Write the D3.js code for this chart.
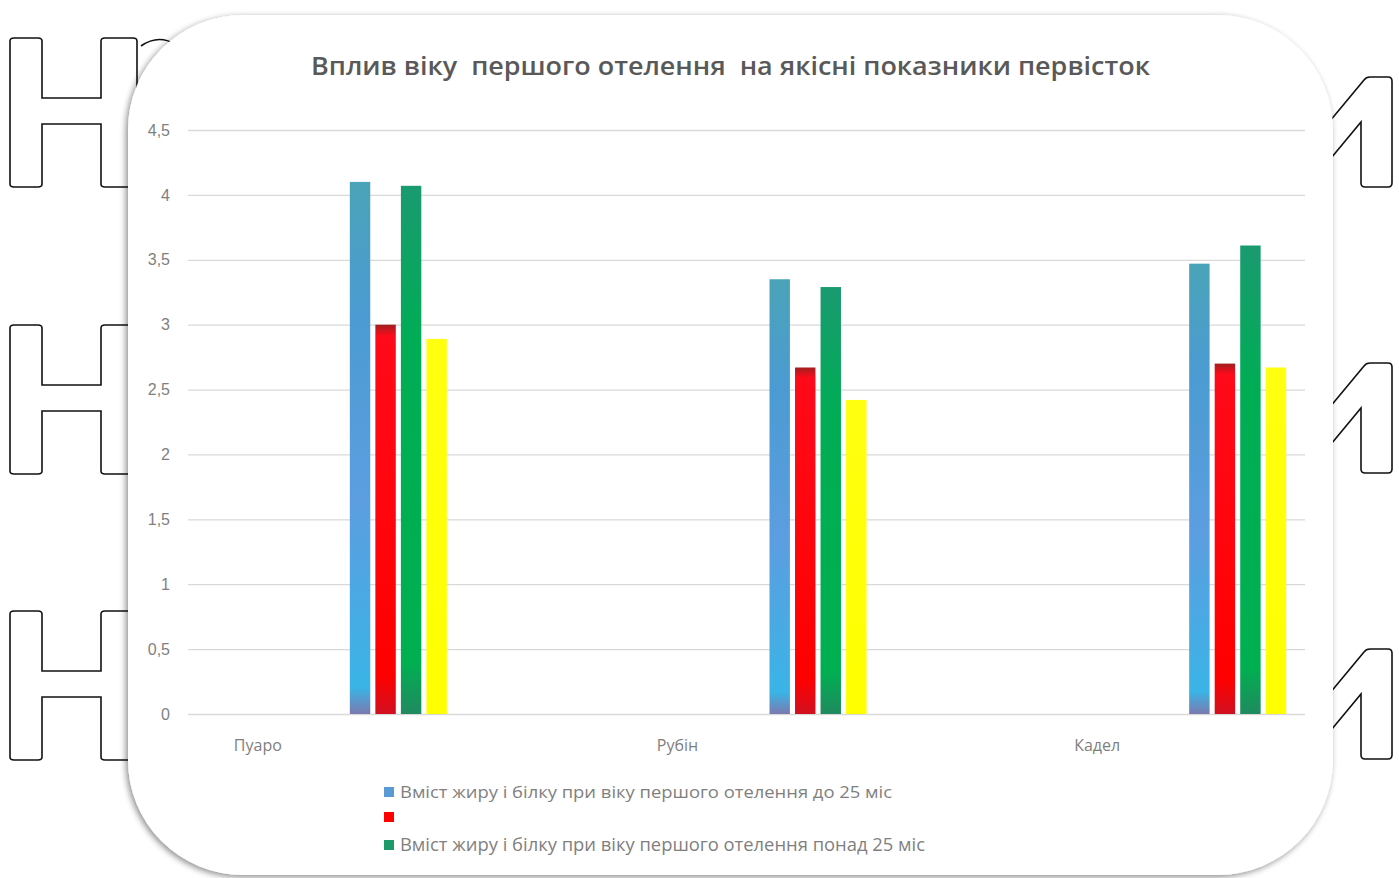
<!DOCTYPE html>
<html>
<head>
<meta charset="utf-8">
<script src="https://cdn.jsdelivr.net/npm/d3@7"></script>
<style>
  html, body { margin: 0; padding: 0; background: #fff; }
  svg { display: block; font-family: "Open Sans", "Noto Sans", sans-serif; }
</style>
</head>
<body>
<svg id="chart" width="1399" height="878"></svg>
<script>
// categories and series values
const categories = ['Пуаро', 'Рубін', 'Кадел'];
const seriesNames = [
  'Вміст жиру і білку при віку першого отелення до 25 міс',
  '',
  'Вміст жиру і білку при віку першого отелення понад 25 міс',
  ''
];
const blueValues   = [4.10, 3.35, 3.47];
const redValues    = [3.00, 2.67, 2.70];
const greenValues  = [4.07, 3.29, 3.61];
const yellowValues = [2.89, 2.42, 2.67];
const yTicks = [0, 0.5, 1, 1.5, 2, 2.5, 3, 3.5, 4, 4.5];
const titleText = 'Вплив віку  першого отелення  на якісні показники первісток';

const seriesValues = [blueValues, redValues, greenValues, yellowValues];
const seriesFill = ['url(#gBlue)', 'url(#gRed)', 'url(#gGreen)', 'url(#gYellow)'];
const legendColors = ['#5b9bd5', '#ff0000', '#1e9a6a', '#ffff00'];

const svg = d3.select('#chart');
const defs = svg.append('defs');

// soft shadow for the rounded card
const f = defs.append('filter').attr('id', 'shadow')
  .attr('x', '-5%').attr('y', '-5%').attr('width', '110%').attr('height', '110%');
f.append('feDropShadow').attr('dx', -2).attr('dy', 2).attr('stdDeviation', 3)
  .attr('flood-color', '#000').attr('flood-opacity', 0.45);

function grad(id, stops) {
  const g = defs.append('linearGradient').attr('id', id)
    .attr('x1', 0).attr('y1', 0).attr('x2', 0).attr('y2', 1);
  stops.forEach(([o, c]) => g.append('stop').attr('offset', o).attr('stop-color', c));
}
grad('gBlue', [[0, '#4aa3b8'], [0.25, '#4b9bd2'], [0.6, '#5c9ee0'], [0.95, '#3ab4e6'], [1, '#7a7ab0']]);
grad('gRed', [[0, '#a02020'], [0.03, '#ff0a1a'], [0.9, '#ff0000'], [1, '#d01020']]);
grad('gGreen', [[0, '#1a9a70'], [0.3, '#00ad55'], [0.9, '#00b050'], [1, '#208a60']]);
grad('gYellow', [[0, '#ffff10'], [1, '#ffff00']]);

// decorative outlined shapes behind the card
const deco = svg.append('g').attr('fill', '#fff').attr('stroke', '#111').attr('stroke-width', 1.6);
[38, 325, 611].forEach(top => {
  const b = top + 149;
  deco.append('path').attr('d',
    `M10,${top + 3} Q10,${top} 14,${top} L38,${top} Q42,${top} 42,${top + 3}` +
    ` L42,${top + 60} L101,${top + 60} L101,${top + 3} Q101,${top} 105,${top} L133,${top} Q137,${top} 137,${top + 3}` +
    ` L137,${b - 3} Q137,${b} 133,${b} L105,${b} Q101,${b} 101,${b - 3}` +
    ` L101,${top + 86} L42,${top + 86} L42,${b - 3} Q42,${b} 38,${b} L14,${b} Q10,${b} 10,${b - 3} Z`);
});
[77, 363, 649].forEach(top => {
  const b = top + 110;
  deco.append('path').attr('d',
    `M1320,${top + 56} L1364,${top + 3} Q1366,${top} 1370,${top} L1388,${top} Q1392,${top} 1392,${top + 4}` +
    ` L1392,${b - 4} Q1392,${b} 1388,${b} L1365,${b} Q1361,${b} 1361,${b - 4} L1361,${top + 45} L1322,${top + 92}`);
});
deco.append('path').attr('fill', 'none')
  .attr('d', 'M141,46 Q158,34 175,44 L153,72');
deco.append('path').attr('fill', 'none').attr('stroke-width', 1.2)
  .attr('d', 'M1311,78 L1313,82');

// the card
svg.append('rect')
  .attr('x', 128).attr('y', 15).attr('width', 1205).attr('height', 860)
  .attr('rx', 115).attr('ry', 115)
  .attr('fill', '#fff').attr('filter', 'url(#shadow)');

// scales
const y = d3.scaleLinear().domain([0, 4.5]).range([714, 130]);
const x0 = d3.scaleBand().domain(categories).range([48, 1307]);
const x1 = d3.scaleBand().domain(d3.range(seriesValues.length)).range([92, 189]).paddingInner(0.2);

// title
svg.append('text')
  .attr('x', 311).attr('y', 75)
  .attr('font-size', 26).attr('font-weight', 600).attr('fill', '#595959')
  .attr('xml:space', 'preserve')
  .attr('textLength', 839).attr('lengthAdjust', 'spacingAndGlyphs')
  .text(titleText);

// gridlines + y axis labels
const yAxis = svg.append('g').attr('transform', 'translate(188,0)')
  .call(d3.axisLeft(y).tickValues(yTicks).tickSize(-1117).tickPadding(18)
    .tickFormat(d => d3.format('.1~f')(d).replace('.', ',')));
yAxis.select('.domain').remove();
yAxis.selectAll('.tick line').attr('stroke', '#d9d9d9').attr('stroke-width', 1.3);
yAxis.selectAll('.tick text').attr('fill', '#7f7f7f').attr('font-size', 16);

// category labels
svg.append('g').selectAll('text').data(categories).join('text')
  .attr('x', d => x0(d) + x0.bandwidth() / 2)
  .attr('y', 751).attr('text-anchor', 'middle')
  .attr('font-size', 16).attr('fill', '#7f7f7f')
  .text(d => d);

// bars
const groups = svg.append('g').selectAll('g').data(categories).join('g')
  .attr('transform', d => `translate(${x0(d) + x0.bandwidth() / 2},0)`);
groups.selectAll('rect')
  .data((c, i) => seriesValues.map((vals, s) => ({ s, v: vals[i] })))
  .join('rect')
  .attr('x', d => x1(d.s))
  .attr('width', x1.bandwidth())
  .attr('y', d => y(d.v))
  .attr('height', d => y(0) - y(d.v))
  .attr('fill', d => seriesFill[d.s]);

// legend (only the first three entries are visible)
const legend = svg.append('g');
const legendY = [793, 818, 846];
const legendSize = [16, 16, 17.5];
legendY.forEach((ly, i) => {
  legend.append('rect').attr('x', 384).attr('y', ly - 6).attr('width', 10).attr('height', 10)
    .attr('fill', legendColors[i]);
  if (seriesNames[i]) {
    legend.append('text').attr('x', 400).attr('y', ly + 5)
      .attr('font-size', legendSize[i]).attr('fill', '#7f7f7f')
      .attr('textLength', i === 0 ? 492 : 525).attr('lengthAdjust', 'spacingAndGlyphs')
      .text(seriesNames[i]);
  }
});
</script>
</body>
</html>
